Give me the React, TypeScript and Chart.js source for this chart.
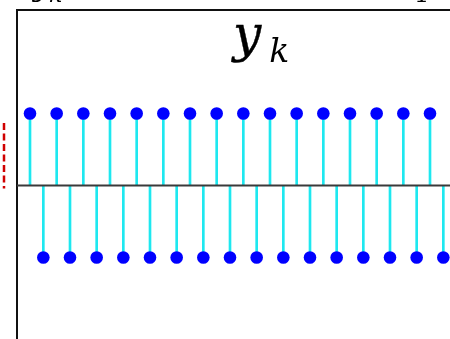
import React, { useEffect, useRef } from "react";
import { Chart, registerables } from "chart.js";

Chart.register(...registerables);

// sample index k and the alternating sequence y_k
const sampleIndex = [
  0, 1, 2, 3, 4, 5, 6, 7, 8, 9, 10, 11, 12, 13, 14, 15, 16, 17, 18, 19, 20, 21,
  22, 23, 24, 25, 26, 27, 28, 29, 30, 31, 32, 33,
];
const yValues = [
  1, -1, 1, -1, 1, -1, 1, -1, 1, -1, 1, -1, 1, -1, 1, -1, 1, -1, 1, -1, 1, -1,
  1, -1, 1, -1, 1, -1, 1, -1, 1, -1, 1, -1,
];
const titleMain = "y";
const titleSub = "k";

const frame = {
  id: "frame",
  beforeDatasetsDraw(chart: any) {
    const { ctx, chartArea } = chart;
    const y0 = chart.scales.y.getPixelForValue(0);
    ctx.save();
    // left and top edges of the panel
    ctx.strokeStyle = "#111";
    ctx.lineWidth = 2;
    ctx.beginPath();
    ctx.moveTo(chartArea.left, chart.height);
    ctx.lineTo(chartArea.left, chartArea.top);
    ctx.lineTo(chart.width, chartArea.top);
    ctx.stroke();
    // red dashed marker beside the panel
    ctx.strokeStyle = "#d00000";
    ctx.lineWidth = 2.5;
    ctx.setLineDash([7, 3.5]);
    ctx.beginPath();
    ctx.moveTo(4, 123);
    ctx.lineTo(4, y0 + 3);
    ctx.stroke();
    ctx.restore();
  },
  afterDatasetsDraw(chart: any) {
    const { ctx, chartArea } = chart;
    const y0 = chart.scales.y.getPixelForValue(0);
    ctx.save();
    // zero line
    ctx.strokeStyle = "#3a3a3a";
    ctx.lineWidth = 2;
    ctx.beginPath();
    ctx.moveTo(chartArea.left, y0);
    ctx.lineTo(chart.width, y0);
    ctx.stroke();
    // title y_k
    ctx.fillStyle = "#000";
    ctx.textAlign = "left";
    ctx.textBaseline = "alphabetic";
    ctx.font = "italic 50px 'DejaVu Serif'";
    ctx.lineWidth = 0.4;
    ctx.strokeStyle = "#000";
    ctx.fillText(titleMain, 233, 51);
    ctx.strokeText(titleMain, 233, 51);
    const w = ctx.measureText(titleMain).width;
    ctx.font = "italic 33px 'DejaVu Serif'";
    ctx.fillText(titleSub, 233 + w + 8, 62);
    // neighbouring labels cut by the top edge
    ctx.font = "italic 30px 'DejaVu Serif'";
    ctx.fillText("y", 33, -4);
    ctx.font = "italic 22px 'DejaVu Serif'";
    ctx.fillText("k", 49, 2);
    ctx.font = "24px 'DejaVu Serif'";
    ctx.fillText("1", 414, 2);
    ctx.restore();
  },
};

export default function App() {
  const ref = useRef<HTMLCanvasElement>(null);

  useEffect(() => {
    if (!ref.current) return;
    const chart = new Chart(ref.current, {
      type: "bar",
      data: {
        datasets: [
          {
            type: "scatter",
            data: sampleIndex.map((k, i) => ({ x: k, y: yValues[i] })),
            backgroundColor: "#0000ff",
            borderColor: "#0000ff",
            pointRadius: 6.3,
            pointBorderWidth: 0,
            order: 0,
          } as any,
          {
            type: "bar",
            data: sampleIndex.map((k, i) => ({ x: k, y: yValues[i] })),
            backgroundColor: "#1ee8f0",
            borderWidth: 0,
            barThickness: 2,
            order: 1,
          } as any,
        ],
      },
      options: {
        animation: false,
        responsive: false,
        events: [],
        layout: { autoPadding: false, padding: { left: 17, top: 10, right: 0, bottom: 0 } },
        plugins: {
          legend: { display: false },
          tooltip: { enabled: false },
          title: { display: false },
        },
        scales: {
          x: {
            type: "linear",
            display: false,
            offset: false,
            min: -0.975,
            max: 31.5,
          },
          y: {
            type: "linear",
            display: false,
            min: -2.132,
            max: 2.4375,
          },
        },
      },
      plugins: [frame],
    });
    return () => chart.destroy();
  }, []);

  return (
    <div style={{ position: "absolute", left: 0, top: 0, width: 450, height: 339, background: "#fff" }}>
      <canvas ref={ref} width={450} height={339} style={{ display: "block", width: 450, height: 339 }} />
    </div>
  );
}
